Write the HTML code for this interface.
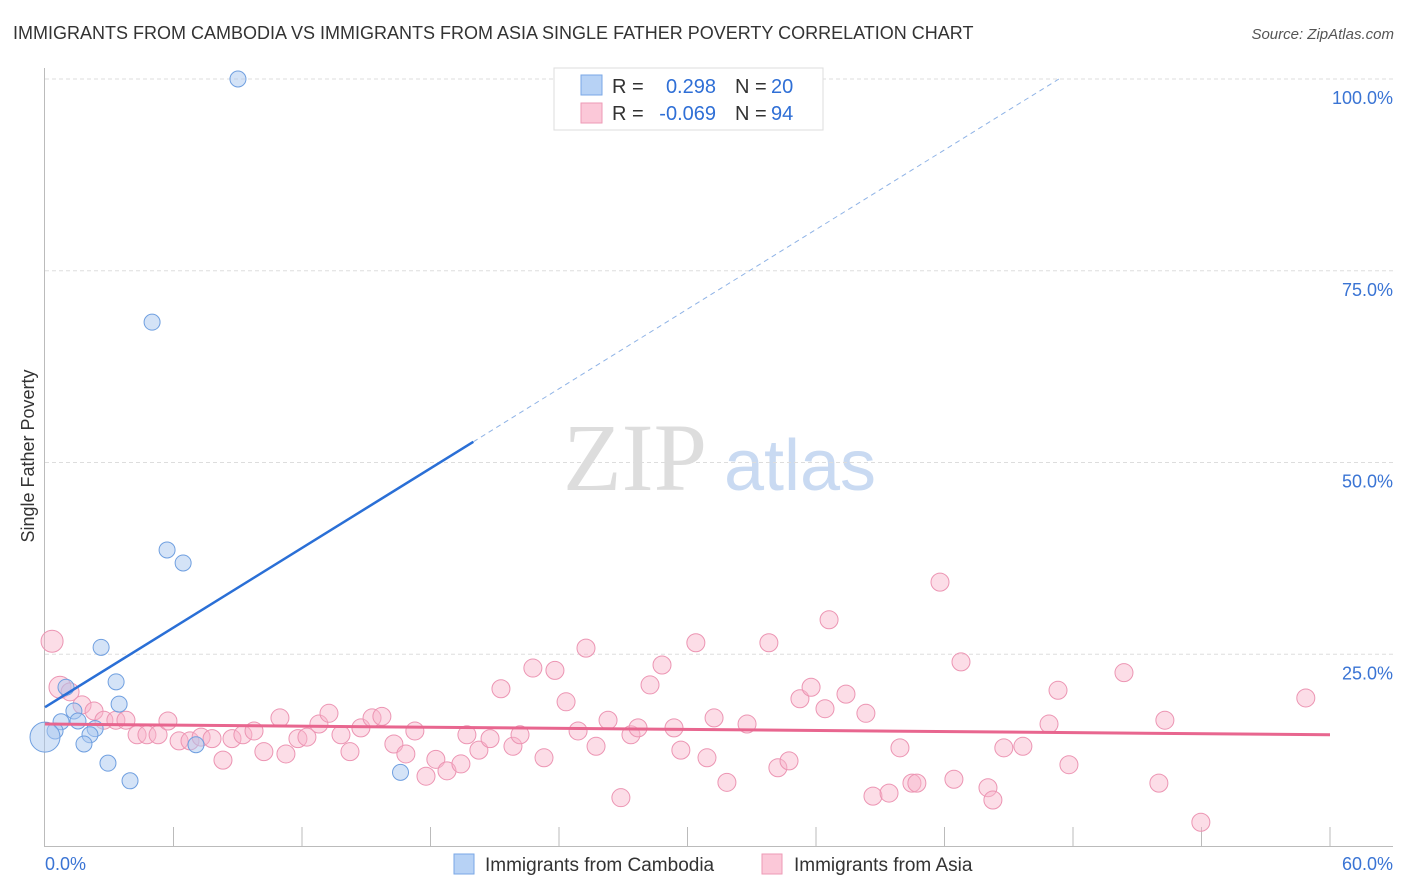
<!DOCTYPE html>
<html><head><meta charset="utf-8"><style>
body{margin:0;background:#fff;font-family:"Liberation Sans",sans-serif;}
svg{display:block}
</style></head><body>
<svg id="chart" width="1406" height="892" xmlns="http://www.w3.org/2000/svg">
<text x="13" y="39" font-size="18" fill="#333">IMMIGRANTS FROM CAMBODIA VS IMMIGRANTS FROM ASIA SINGLE FATHER POVERTY CORRELATION CHART</text>
<text x="1394" y="39" font-size="15" font-style="italic" fill="#555" text-anchor="end">Source: ZipAtlas.com</text>
<g>
<text x="635" y="490" font-size="96" font-family="Liberation Serif,serif" fill="#ddd" text-anchor="middle">ZIP</text>
<text x="800" y="490" font-size="72" fill="#c9daf2" text-anchor="middle">atlas</text>
</g>
<g id="grid"></g>
<g id="axes"></g>
<g id="marks"></g>
<text transform="translate(34,456) rotate(-90)" font-size="18" fill="#333" text-anchor="middle">Single Father Poverty</text>
<g>
<rect x="554" y="68" width="269" height="62" fill="#fff" stroke="#ddd"/>
<rect x="581" y="75" width="21" height="20" fill="#b7d2f5" stroke="#7aa7e6"/>
<rect x="581" y="103" width="21" height="20" fill="#fbc8d8" stroke="#ee9ab6"/>
<text x="612" y="93" font-size="20" fill="#333">R =</text>
<text x="716" y="93" font-size="20" fill="#2f6fd6" text-anchor="end">0.298</text>
<text x="735" y="93" font-size="20" fill="#333">N =</text>
<text x="771" y="93" font-size="20" fill="#2f6fd6">20</text>
<text x="612" y="120" font-size="20" fill="#333">R =</text>
<text x="716" y="120" font-size="20" fill="#2f6fd6" text-anchor="end">-0.069</text>
<text x="735" y="120" font-size="20" fill="#333">N =</text>
<text x="771" y="120" font-size="20" fill="#2f6fd6">94</text>
</g>
<g>
<rect x="454" y="854" width="20" height="20" fill="#b7d2f5" stroke="#7aa7e6"/>
<text x="485" y="871" font-size="19" fill="#333">Immigrants from Cambodia</text>
<rect x="762" y="854" width="20" height="20" fill="#fbc8d8" stroke="#ee9ab6"/>
<text x="794" y="871" font-size="19" fill="#333">Immigrants from Asia</text>
</g>
</svg>
<script>
const xTicks=[0,6,12,18,24,30,36,42,48,54,60];
const yTicks=[25,50,75,100];
const yTickLabels=["25.0%","50.0%","75.0%","100.0%"];
const xEndLabels=["0.0%","60.0%"];
const cambodiaX=[9.01,5.0,5.7,6.45,2.62,3.32,0.98,3.46,1.35,0.75,1.54,2.34,2.1,0.47,0.0,1.82,7.05,2.94,3.97,16.6];
const cambodiaY=[100.0,68.3,38.6,36.9,25.9,21.4,20.7,18.5,17.6,16.2,16.3,15.3,14.5,15.0,14.2,13.3,13.2,10.8,8.5,9.6];
const asiaX=[0.33,0.70,1.17,1.73,2.29,2.75,3.31,3.78,4.30,4.76,5.28,5.74,6.26,6.77,7.29,7.80,8.31,8.73,9.24,9.76,10.22,10.97,11.25,11.81,12.23,12.79,13.26,13.82,14.24,14.75,15.27,15.73,16.29,16.85,17.27,17.79,18.25,18.77,19.42,19.70,20.26,20.78,21.29,21.85,22.18,22.78,23.30,23.81,24.33,24.89,25.26,25.73,26.29,26.89,27.36,27.69,28.25,28.81,29.37,29.69,30.39,30.91,31.24,31.84,32.78,33.80,34.22,34.74,35.25,35.77,36.42,36.61,37.40,38.33,38.66,39.41,39.92,40.48,40.71,41.79,42.44,42.77,44.03,44.26,44.77,45.66,46.88,47.30,47.81,50.38,52.01,52.29,53.97,58.87];
const asiaY=[26.7,20.7,20.1,18.4,17.6,16.4,16.4,16.4,14.5,14.5,14.5,16.3,13.7,13.7,14.2,14.0,11.2,14.0,14.5,15.0,12.3,16.7,12.0,14.0,14.2,15.9,17.3,14.5,12.3,15.4,16.7,16.9,13.3,12.0,15.0,9.1,11.3,9.8,10.7,14.5,12.5,14.0,20.5,13.0,14.5,23.2,11.5,22.9,18.8,15.0,25.8,13.0,16.4,6.3,14.5,15.4,21.0,23.6,15.4,12.5,26.5,11.5,16.7,8.3,15.9,26.5,10.2,11.1,19.2,20.7,17.9,29.5,19.8,17.3,6.5,6.9,12.8,8.2,8.2,34.4,8.7,24.0,7.6,6.0,12.8,13.0,15.9,20.3,10.6,22.6,8.2,16.4,3.1,19.3];
const cambodiaTrend=[18.1,1.73]; // intercept, slope
const asiaTrend=[15.9,14.5]; // y at x=0, y at x=60
const NS="http://www.w3.org/2000/svg";
const X=v=>45+v/60*1285;
const Y=v=>846-v/100*767;
function mk(tag,attrs,parent){const e=document.createElementNS(NS,tag);for(const k in attrs)e.setAttribute(k,attrs[k]);parent.appendChild(e);return e;}
const grid=document.getElementById('grid'),axes=document.getElementById('axes'),marks=document.getElementById('marks');
yTicks.forEach((t,i)=>{
 const l=mk('line',{x1:45,x2:1393,y1:Y(t),y2:Y(t),stroke:'#ddd','stroke-dasharray':'4,3'},grid);
 
 
 const tx=mk('text',{x:1393,y:Y(t)+25,'font-size':18,fill:'#3a74d4','text-anchor':'end'},grid);
 tx.textContent=yTickLabels[i];
 
 
});
const ya=mk('line',{x1:44.5,x2:44.5,y1:68,y2:846,stroke:'#bbb'},axes);


const xa=mk('line',{x1:44,x2:1393,y1:846.5,y2:846.5,stroke:'#bbb'},axes);


xTicks.forEach(t=>{if(t===0)return;
 const l=mk('line',{x1:X(t),x2:X(t),y1:827,y2:846,stroke:'#bbb'},axes);
 
 
});
const xl0=mk('text',{x:45,y:870,'font-size':18,fill:'#3a74d4'},axes);xl0.textContent=xEndLabels[0];


const xl1=mk('text',{x:1393,y:870,'font-size':18,fill:'#3a74d4','text-anchor':'end'},axes);xl1.textContent=xEndLabels[1];


asiaX.forEach((v,i)=>{
 const c=mk('circle',{cx:X(v),cy:Y(asiaY[i]),r:i<2?11:9,fill:'rgba(248,180,202,0.45)',stroke:'#ec95b3','stroke-width':1},marks);
 
 
});
cambodiaX.forEach((v,i)=>{
 const c=mk('circle',{cx:X(v),cy:Y(cambodiaY[i]),r:v===0?15:8,fill:'rgba(170,200,240,0.5)',stroke:'#6f9fe0','stroke-width':1},marks);
 
 
});
const xs=20,xe=(100-cambodiaTrend[0])/cambodiaTrend[1];
const t1=mk('line',{x1:X(0),y1:Y(cambodiaTrend[0]),x2:X(xs),y2:Y(cambodiaTrend[0]+cambodiaTrend[1]*xs),stroke:'#2a6fd6','stroke-width':2.5},marks);


const t2=mk('line',{x1:X(xs),y1:Y(cambodiaTrend[0]+cambodiaTrend[1]*xs),x2:X(xe),y2:Y(100),stroke:'#8fb3e6','stroke-width':1,'stroke-dasharray':'5,4'},marks);


const t3=mk('line',{x1:X(0),y1:Y(asiaTrend[0]),x2:X(60),y2:Y(asiaTrend[1]),stroke:'#e8668f','stroke-width':3},marks);


</script>
</body></html>
